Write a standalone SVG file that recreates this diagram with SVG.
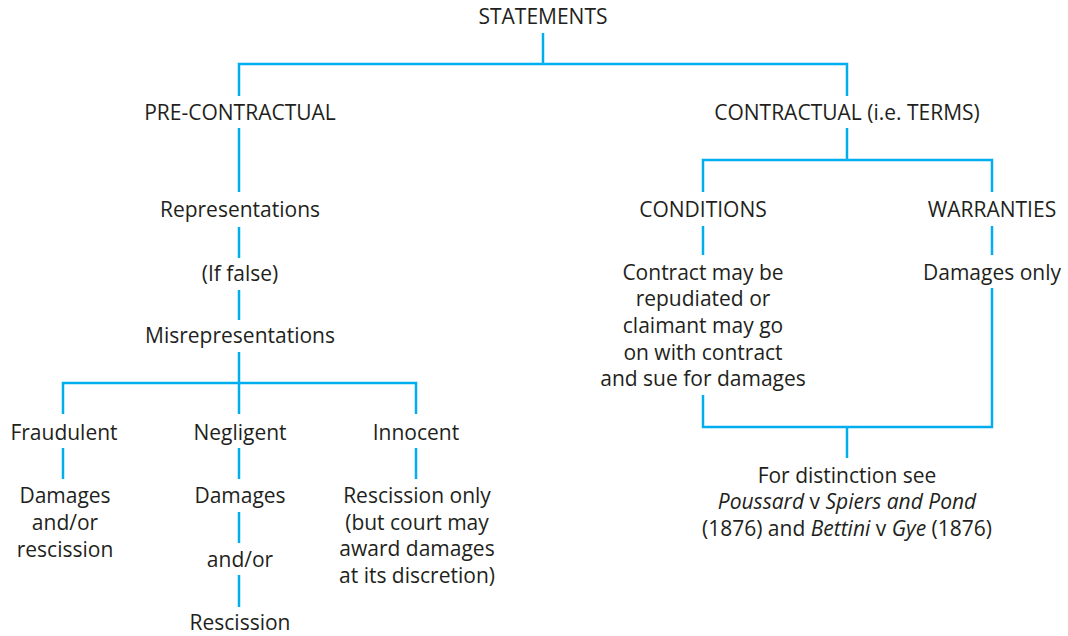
<svg xmlns="http://www.w3.org/2000/svg" width="1068" height="636" viewBox="0 0 1068 636">
<style>
text{font-family:"Open Sans","Noto Sans","Liberation Sans",sans-serif;font-size:21px;fill:#231f20;text-anchor:middle}
.c line,.c path{stroke:#00aeef;stroke-width:2.5;fill:none}
.i{font-style:italic}
</style>
<rect width="1068" height="636" fill="#fff"/>
<g class="c" id="connectors">
<line x1="543" y1="33" x2="543" y2="64"/>
<path d="M239 96V64H847V96"/>
<line x1="239" y1="128" x2="239" y2="192"/>
<line x1="239" y1="227" x2="239" y2="258"/>
<line x1="239" y1="290" x2="239" y2="320"/>
<line x1="239" y1="352" x2="239" y2="414"/>
<path d="M63 414V383H416V414"/>
<line x1="63" y1="448" x2="63" y2="479"/>
<line x1="239" y1="448" x2="239" y2="479"/>
<line x1="416" y1="448" x2="416" y2="479"/>
<line x1="239" y1="512" x2="239" y2="543"/>
<line x1="239" y1="575" x2="239" y2="607"/>
<line x1="847" y1="128" x2="847" y2="160"/>
<path d="M703 192V160H992V192"/>
<line x1="703" y1="226" x2="703" y2="255"/>
<line x1="992" y1="226" x2="992" y2="255"/>
<path d="M703 395V427H992V288"/>
<line x1="847" y1="427" x2="847" y2="458"/>
</g>
<g id="statements"><text x="543" y="24">STATEMENTS</text></g>
<g id="pre"><text x="240" y="120">PRE-CONTRACTUAL</text></g>
<g id="representations"><text x="240" y="217">Representations</text></g>
<g id="iffalse"><text x="240" y="281">(If false)</text></g>
<g id="misrep"><text x="240" y="343">Misrepresentations</text></g>
<g id="fraudulent"><text x="64" y="440">Fraudulent</text></g>
<g id="negligent"><text x="240" y="440">Negligent</text></g>
<g id="innocent"><text x="416" y="440">Innocent</text></g>
<g id="fraud-rem"><text x="65" y="503">Damages</text><text x="65" y="530">and/or</text><text x="65" y="557">rescission</text></g>
<g id="neg-damages"><text x="240" y="503">Damages</text></g>
<g id="neg-andor"><text x="240" y="567">and/or</text></g>
<g id="neg-rescission"><text x="240" y="630">Rescission</text></g>
<g id="inn-rem"><text x="417" y="503">Rescission only</text><text x="417" y="530">(but court may</text><text x="417" y="556">award damages</text><text x="417" y="583">at its discretion)</text></g>
<g id="contractual"><text x="847" y="120">CONTRACTUAL (i.e. TERMS)</text></g>
<g id="conditions"><text x="703" y="217">CONDITIONS</text></g>
<g id="warranties"><text x="992" y="217">WARRANTIES</text></g>
<g id="cond-rem"><text x="703" y="280">Contract may be</text><text x="703" y="306">repudiated or</text><text x="703" y="333">claimant may go</text><text x="703" y="360">on with contract</text><text x="703" y="386">and sue for damages</text></g>
<g id="warr-rem"><text x="992" y="280">Damages only</text></g>
<g id="distinction"><text x="847" y="483">For distinction see</text><text x="847" y="509"><tspan class="i">Poussard</tspan> v <tspan class="i">Spiers and Pond</tspan></text><text x="847" y="536">(1876) and <tspan class="i">Bettini</tspan> v <tspan class="i">Gye</tspan> (1876)</text></g>
</svg>
